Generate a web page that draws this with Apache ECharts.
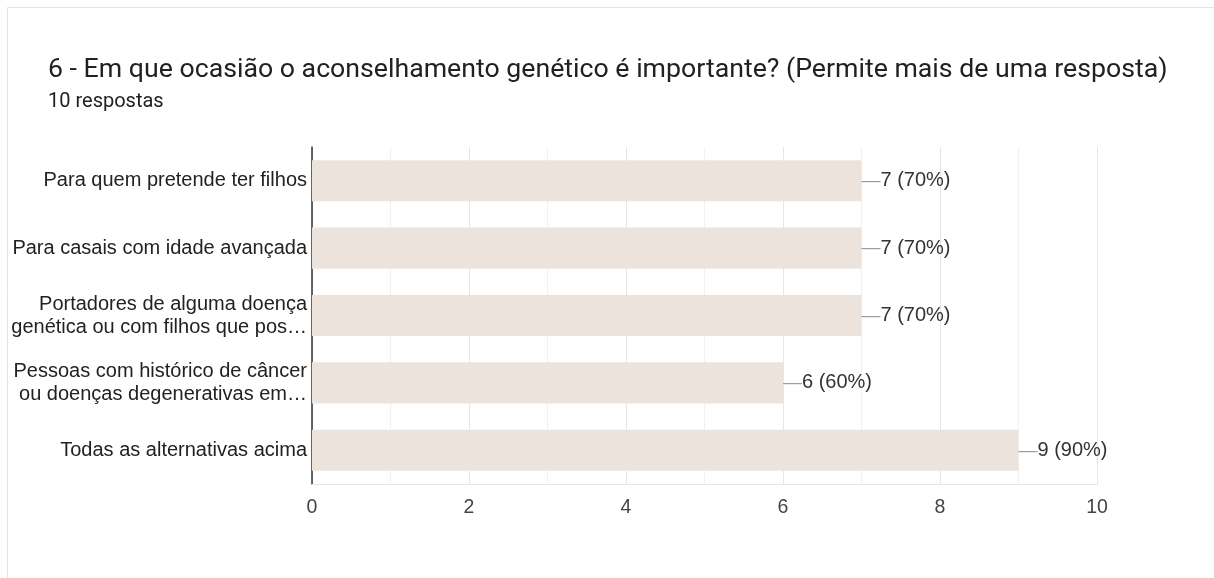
<!DOCTYPE html>
<html>
<head>
<meta charset="utf-8">
<script src="https://cdn.jsdelivr.net/npm/echarts@6/dist/echarts.min.js"></script>
<style>
html,body{margin:0;padding:0;background:#fff;}
#chart{width:1214px;height:578px;}
</style>
</head>
<body>
<div id="chart"></div>
<script>
var titleText = '6 - Em que ocasião o aconselhamento genético é importante? (Permite mais de uma resposta)';
var subtitleText = '10 respostas';
var totalResponses = 10;
var categories = [
  'Para quem pretende ter filhos',
  'Para casais com idade avançada',
  'Portadores de alguma doença\ngenética ou com filhos que pos…',
  'Pessoas com histórico de câncer\nou doenças degenerativas em…',
  'Todas as alternativas acima'
];
var values = [7, 7, 7, 6, 9];
var xTicks = [0, 2, 4, 6, 8, 10];

var FONT = 'Liberation Sans';
var chart = echarts.init(document.getElementById('chart'), null, {renderer: 'canvas'});
chart.setOption({
  animation: false,
  backgroundColor: '#fff',
  graphic: [
    {type: 'rect', shape: {x: 7.5, y: 7.5, width: 1230, height: 600},
     style: {fill: 'none', stroke: '#e3e3e3', lineWidth: 1}},
    {type: 'text', left: 48, top: 57,
     style: {text: titleText, font: '26.7px Roboto', fill: '#202124'}},
    {type: 'text', left: 48, top: 92,
     style: {text: subtitleText, font: '20px Roboto', fill: '#202124'}}
  ],
  grid: {left: 312, right: 117, top: 147, bottom: 94, containLabel: false},
  xAxis: {
    type: 'value', min: xTicks[0], max: xTicks[xTicks.length - 1], interval: 2,
    axisLine: {show: true, lineStyle: {color: '#e6e6e6'}},
    axisTick: {show: false},
    axisLabel: {color: '#444', fontSize: 19.5, fontFamily: FONT, margin: 14},
    splitLine: {show: true, lineStyle: {color: '#e6e6e6', width: 1}},
    minorTick: {show: false, splitNumber: 2},
    minorSplitLine: {show: true, lineStyle: {color: '#f1f1f1', width: 1}}
  },
  yAxis: {
    type: 'category', data: categories, inverse: true,
    axisLine: {show: true, lineStyle: {color: '#333', width: 1.5}},
    axisTick: {show: false},
    axisLabel: {color: '#222', fontSize: 20, fontFamily: FONT, margin: 5, lineHeight: 23, align: 'right'},
    splitLine: {show: false}
  },
  series: [{
    type: 'bar', data: values, barWidth: '61%',
    itemStyle: {color: '#ece4dc'},
    label: {
      show: true, position: 'right', distance: 0,
      formatter: function (p) {
        return '{d|—}{v|' + p.value + ' (' + Math.round(p.value / totalResponses * 100) + '%)}';
      },
      rich: {
        d: {color: '#9e9e9e', fontSize: 19, fontFamily: FONT},
        v: {color: '#333', fontSize: 20, fontFamily: FONT}
      }
    }
  }]
});
</script>
</body>
</html>
